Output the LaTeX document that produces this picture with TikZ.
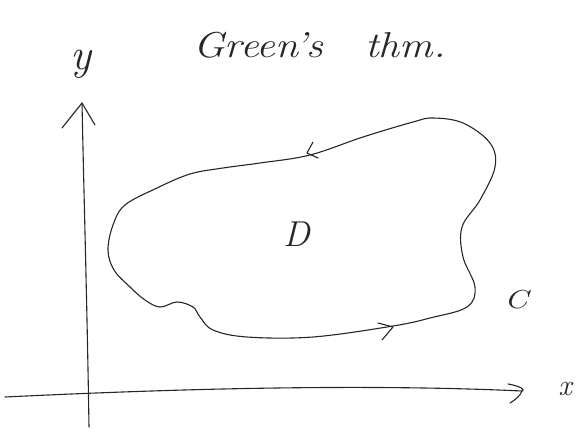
\documentclass[tikz,border=0pt]{standalone}
\usetikzlibrary{calc}
\begin{document}
\begin{tikzpicture}[x=1pt,y=-1pt,
  pen/.style={draw=black!85,line width=1.1pt,line cap=round,line join=round},
  hand/.style={font=\fontsize{30}{34}\selectfont\itshape,text=black!85,inner sep=0pt}]
\useasboundingbox (0,0) rectangle (580,433);
% axes
\coordinate (ybot) at (89,427);
\coordinate (ytip) at (82,103);
\coordinate (xleft) at (5,397);
\coordinate (xtip) at (522,391);
\draw[pen] (ybot) .. controls (87,300) and (84,200) .. (ytip);
\draw[pen] (xleft) .. controls (150,390) and (350,383) .. (xtip);
\draw[pen] (62,128) -- (ytip) -- (95,125);
\draw[pen] (508,384) .. controls (520,386) and (526,390) .. (xtip) .. controls (520,396) and (515,400) .. (510,403);
% region boundary
\draw[pen] plot[smooth cycle,tension=0.6] coordinates {
 (433,118) (463,123) (490,143) (495,167) (480,200) (462,227) (463,257) (475,287)
 (467,307) (430,318) (393,326) (313,337) (247,337) (213,330) (200,317) (193,307)
 (177,302) (160,307) (145,300) (130,287) (114,270) (108,250) (113,225) (125,205)
 (157,188) (190,174) (223,168) (260,163) (310,155) (363,137) (413,122)};
% orientation chevrons
\coordinate (ttip) at (307,153);
\coordinate (btip) at (393,327);
\draw[pen] (313,142) -- (ttip) -- (318,158);
\draw[pen] (378,323) -- (btip) -- (382,340);
% labels
\node[hand,font=\fontsize{44}{48}\selectfont\itshape] (ylab) at (81,64) {y};
\node[hand] (xlab) at (565,389) {x};
\node[hand,font=\fontsize{36}{40}\selectfont\itshape,anchor=base west] (title) at (193,58)
  {\scalebox{1.16}[1]{Green's\hspace{36pt}thm.}};
\node[hand,font=\fontsize{36}{40}\selectfont\itshape] (dlab) at (297,234) {D};
\node[hand,font=\fontsize{26}{30}\selectfont\itshape] (clab) at (516,300) {\scalebox{1.3}[1]{C}};
\end{tikzpicture}
\end{document}
